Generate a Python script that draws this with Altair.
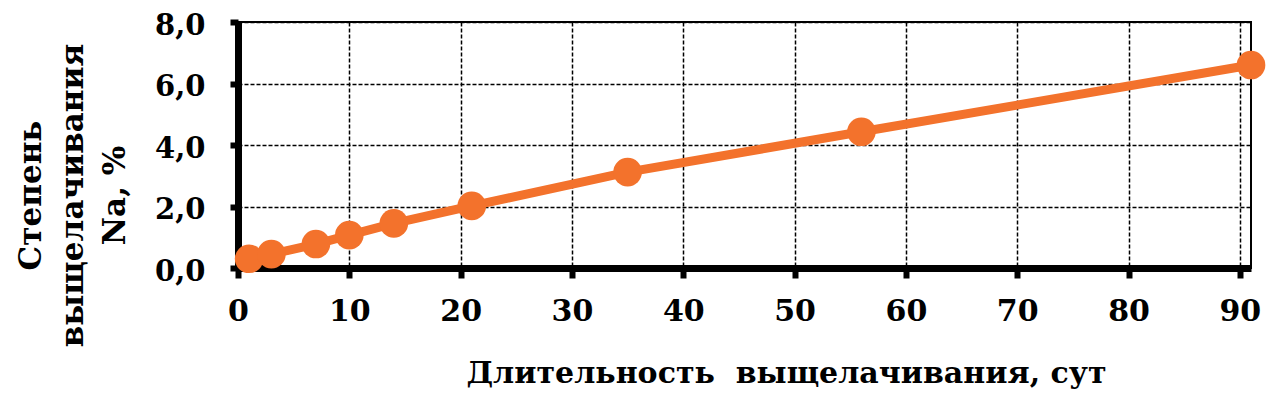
import altair as alt
import pandas as pd

days = [1, 3, 7, 10, 14, 21, 35, 56, 91]
degree = [0.3, 0.45, 0.78, 1.07, 1.45, 2.02, 3.12, 4.43, 6.6]
x_ticks = [0, 10, 20, 30, 40, 50, 60, 70, 80, 90]
y_ticks = [0, 2, 4, 6, 8]

df = pd.DataFrame({"days": days, "degree": degree})
ORANGE = "#F3722C"
FONT = "DejaVu Serif"

x = alt.X(
    "days:Q",
    scale=alt.Scale(domain=[0, 91], nice=False, zero=False),
    axis=alt.Axis(
        values=x_ticks, title="Длительность\u00a0\u00a0выщелачивания, сут",
        titleFont=FONT, titleFontSize=30, titleFontWeight="bold", titleColor="black",
        titleX=548, titleY=114, titleAlign="center", titleBaseline="alphabetic",
        labelFont=FONT, labelFontSize=30, labelFontWeight="bold", labelColor="black",
        labelPadding=18, domainColor="black", domainWidth=7,
        tickColor="black", tickWidth=6, tickSize=10,
        gridColor="black", gridDash=[4, 2], gridWidth=1.5, labelFlush=False,
    ),
)
y = alt.Y(
    "degree:Q",
    scale=alt.Scale(domain=[0, 8], nice=False),
    axis=alt.Axis(
        values=y_ticks, format=".1f", labelExpr="replace(datum.label, '.', ',')",
        title=["Степень", "выщелачивания", "Na, %"],
        titleFont=FONT, titleFontSize=31, titleFontWeight="bold", titleColor="black",
        titleAngle=-90, titleX=-207, titleY=173, titleAlign="center",
        titleBaseline="middle", titleLineHeight=42,
        labelFont=FONT, labelFontSize=29, labelFontWeight="bold", labelColor="black",
        labelPadding=25, labelOffset=3, domainColor="black", domainWidth=7,
        tickColor="black", tickWidth=6, tickSize=8,
        gridColor="black", gridDash=[4, 2], gridWidth=1.5,
    ),
)

base = alt.Chart(df)
line = base.mark_line(color=ORANGE, strokeWidth=9).encode(x=x, y=y)
pts = base.mark_circle(color=ORANGE, size=820, opacity=1).encode(x="days:Q", y="degree:Q")

chart = (
    alt.layer(line, pts)
    .properties(
        width=1013, height=246,
        autosize=alt.AutoSizeParams(type="none"),
        padding={"left": 230, "top": 14, "right": 18, "bottom": 127},
        background="white",
    )
    .configure_view(stroke="black", strokeWidth=2)
)

chart.save("out.html", embed_options={"renderer": "svg", "actions": False})
